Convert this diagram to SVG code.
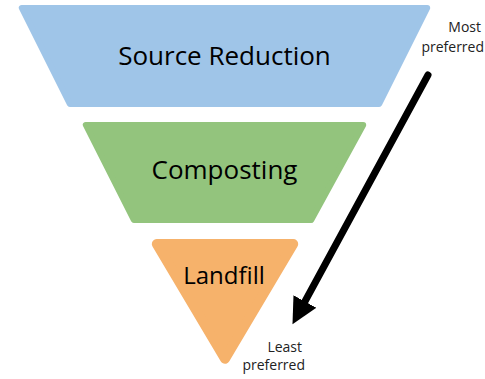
<svg xmlns="http://www.w3.org/2000/svg" width="485" height="379" viewBox="0 0 485 379">
  <style>
    .tier { stroke-linejoin: round; }
    .label { font-family: "Open Sans", "Liberation Sans", sans-serif; fill: #000; text-anchor: middle; }
    .big { font-size: 26px; }
    .small { font-size: 24px; }
    .note { font-family: "Open Sans", "Liberation Sans", sans-serif; font-size: 14px; fill: #222; text-anchor: end; }
  </style>
  <defs>
    <marker id="head" markerUnits="userSpaceOnUse" markerWidth="30" markerHeight="30" refX="4" refY="13" orient="auto" viewBox="0 0 30 26">
      <path d="M0,0 L26,13 L0,26 Z" fill="#000"/>
    </marker>
  </defs>

  <rect width="485" height="379" fill="#fff"/>

  <g id="source-reduction">
    <path class="tier" d="M21.8,8 L427.2,8 L379.2,104 L69.8,104 Z" fill="#9fc5e8" stroke="#9fc5e8" stroke-width="6"/>
    <text class="label big" x="224.5" y="65">Source Reduction</text>
  </g>

  <g id="composting">
    <path class="tier" d="M85.8,125 L363.2,125 L311.2,220 L133.8,220 Z" fill="#93c47d" stroke="#93c47d" stroke-width="6"/>
    <text class="label big" x="224.5" y="179">Composting</text>
  </g>

  <g id="landfill">
    <path class="tier" d="M156.8,244 L293.2,244 L225,358.8 Z" fill="#f6b26b" stroke="#f6b26b" stroke-width="10"/>
    <text class="label small" x="224" y="284">Landfill</text>
  </g>

  <g id="connectors">
    <line x1="428" y1="75" x2="303" y2="305" stroke="#000" stroke-width="7" stroke-linecap="round" marker-end="url(#head)"/>
  </g>

  <g id="annotations">
    <text class="note" x="481" y="32">Most</text>
    <text class="note" x="484" y="52">preferred</text>
    <text class="note" x="302" y="352">Least</text>
    <text class="note" x="305" y="370">preferred</text>
  </g>
</svg>
